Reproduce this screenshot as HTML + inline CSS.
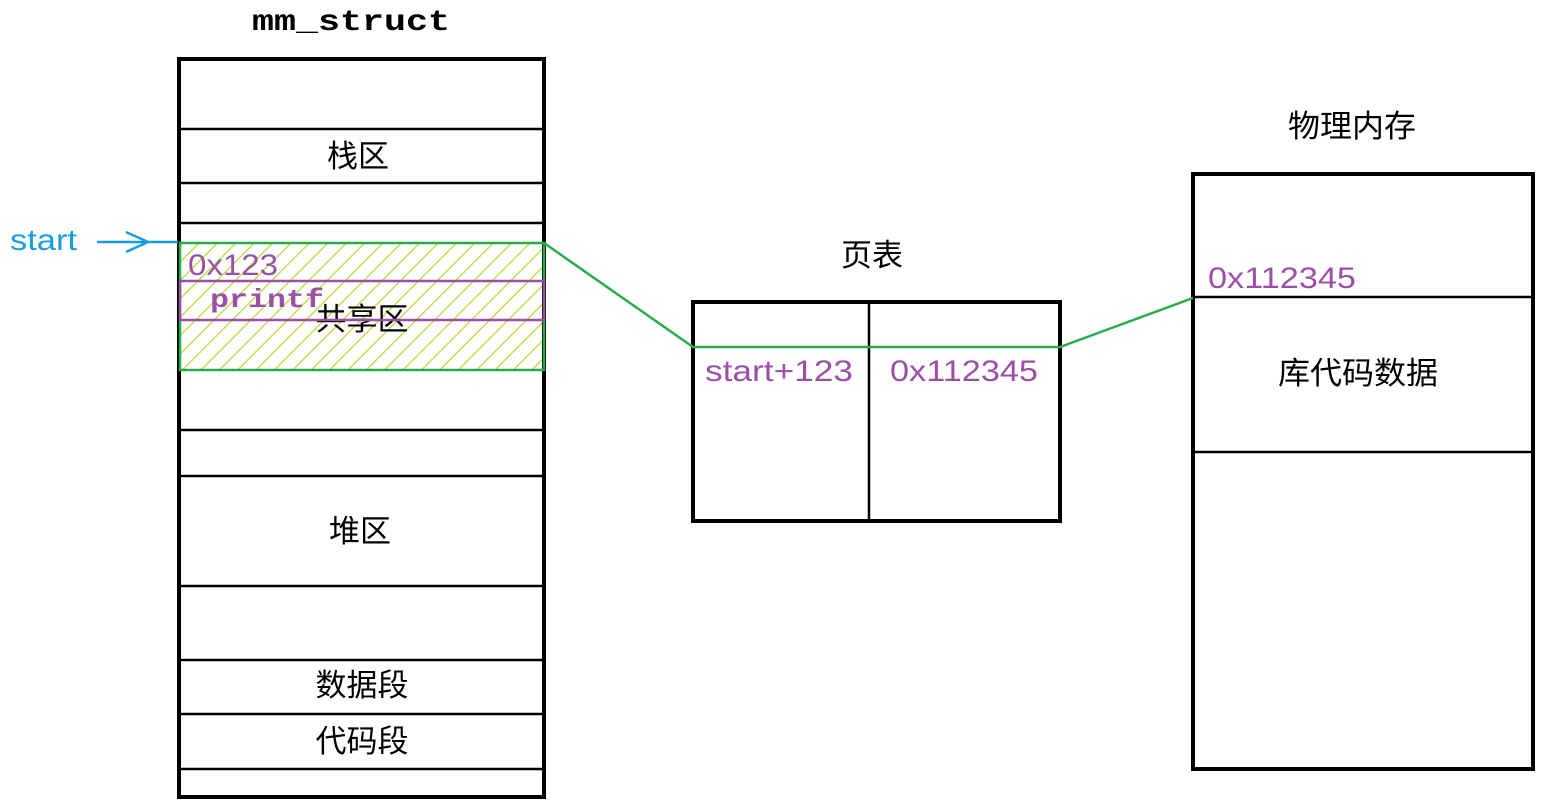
<!DOCTYPE html>
<html><head><meta charset="utf-8"><style>
body{margin:0;background:#fff;}
svg text{font-family:"Liberation Sans","Noto Sans CJK SC",sans-serif;}
</style></head><body>
<svg width="1550" height="807" xmlns="http://www.w3.org/2000/svg">
<defs>
<pattern id="h" patternUnits="userSpaceOnUse" width="13" height="13" patternTransform="rotate(45)">
<line x1="0" y1="0" x2="0" y2="13" stroke="#b5d932" stroke-width="2.5"/>
</pattern>
</defs>
<text x="252" y="30" font-weight="bold" font-size="30" textLength="198" lengthAdjust="spacingAndGlyphs" style="font-family:'Liberation Mono',monospace">mm_struct</text>
<rect x="180" y="243" width="364" height="127" fill="url(#h)"/>
<rect x="179" y="59" width="365" height="738" fill="none" stroke="#000" stroke-width="4"/>
<g stroke="#000" stroke-width="2.5">
<line x1="179" y1="129" x2="544" y2="129"/><line x1="179" y1="183" x2="544" y2="183"/>
<line x1="179" y1="223" x2="544" y2="223"/><line x1="179" y1="430" x2="544" y2="430"/>
<line x1="179" y1="476" x2="544" y2="476"/><line x1="179" y1="586" x2="544" y2="586"/>
<line x1="179" y1="660" x2="544" y2="660"/><line x1="179" y1="714" x2="544" y2="714"/>
<line x1="179" y1="769" x2="544" y2="769"/>
</g>
<text x="358" y="167" text-anchor="middle" font-size="31">栈区</text>
<text x="360" y="542" text-anchor="middle" font-size="31">堆区</text>
<text x="362" y="696" text-anchor="middle" font-size="31">数据段</text>
<text x="362" y="752" text-anchor="middle" font-size="31">代码段</text>
<text x="362" y="330" text-anchor="middle" font-size="31">共享区</text>
<rect x="180" y="243" width="364" height="127" fill="none" stroke="#2aab4a" stroke-width="2.5"/>
<rect x="180" y="281" width="364" height="39" fill="none" stroke="#9b4fa6" stroke-width="2.5"/>
<text x="188" y="275" font-size="30" fill="#9b4fa6" textLength="90" lengthAdjust="spacingAndGlyphs">0x123</text>
<text x="210" y="307" font-size="26" font-weight="bold" fill="#9b4fa6" textLength="114" lengthAdjust="spacingAndGlyphs" style="font-family:'Liberation Mono',monospace">printf</text>
<text x="10" y="250" font-size="30" fill="#1a9de0" textLength="67" lengthAdjust="spacingAndGlyphs">start</text>
<g stroke="#1a9de0" stroke-width="2.5" fill="none">
<line x1="97" y1="242" x2="178" y2="242"/><polyline points="126,232 148,242 126,252"/>
</g>
<text x="872" y="266" text-anchor="middle" font-size="31">页表</text>
<rect x="693" y="302" width="367" height="219" fill="none" stroke="#000" stroke-width="4"/>
<line x1="869" y1="302" x2="869" y2="521" stroke="#000" stroke-width="2.5"/>
<text x="705" y="381" font-size="30" fill="#9b4fa6" textLength="148" lengthAdjust="spacingAndGlyphs">start+123</text>
<text x="890" y="381" font-size="30" fill="#9b4fa6" textLength="148" lengthAdjust="spacingAndGlyphs">0x112345</text>
<text x="1352" y="137" text-anchor="middle" font-size="31" textLength="128" lengthAdjust="spacingAndGlyphs">物理内存</text>
<rect x="1193" y="174" width="340" height="595" fill="none" stroke="#000" stroke-width="4"/>
<line x1="1193" y1="297" x2="1533" y2="297" stroke="#000" stroke-width="2.5"/>
<line x1="1193" y1="452" x2="1533" y2="452" stroke="#000" stroke-width="2.5"/>
<text x="1208" y="288" font-size="30" fill="#9b4fa6" textLength="148" lengthAdjust="spacingAndGlyphs">0x112345</text>
<text x="1358" y="384" text-anchor="middle" font-size="31" textLength="160" lengthAdjust="spacingAndGlyphs">库代码数据</text>
<polyline points="544,243 693,347 1060,347 1193,298" fill="none" stroke="#2aab4a" stroke-width="2.5"/>
</svg>
</body></html>
